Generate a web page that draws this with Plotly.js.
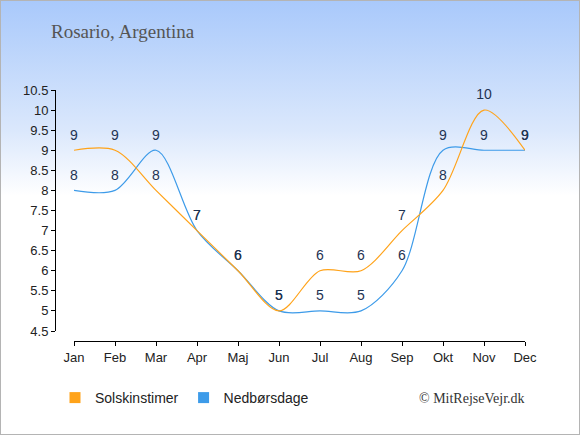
<!DOCTYPE html>
<html>
<head>
<meta charset="utf-8">
<script src="https://cdn.plot.ly/plotly-3.0.1.min.js"></script>
<style>
html,body{margin:0;padding:0;}
#wrap{width:578px;height:433px;border:1px solid #b4b4b4;background:linear-gradient(to bottom,#a9c9fb 0px,#dbe8fc 130px,#ffffff 195px,#ffffff 100%);}
#chart{width:578px;height:433px;}
</style>
</head>
<body>
<div id="wrap"><div id="chart"></div></div>
<script>
var months = ["Jan","Feb","Mar","Apr","Maj","Jun","Jul","Aug","Sep","Okt","Nov","Dec"];
var solskinstimer = [9,9,8,7,6,5,6,6,7,8,10,9];
var nedboersdage = [8,8,9,7,6,5,5,5,6,9,9,9];
var yTicks = [4.5,5,5.5,6,6.5,7,7.5,8,8.5,9,9.5,10,10.5];
var seriesNames = ["Solskinstimer","Nedbørsdage"];
var colors = ["#ffa31a","#3d9be9"];

var W = 578, H = 433;
var monthIdx = months.map(function(m,i){return i;});
var labelFont = {family:"Liberation Sans, Arial, sans-serif", size:14, color:"#1f3352"};

function lineTrace(vals, color){
  return {
    x: monthIdx, y: vals, type:"scatter", mode:"lines+markers+text",
    marker:{size:10, opacity:0, color:color},
    text: vals.map(String), textposition:"top center", textfont: labelFont,
    line:{color:color, width:1.2, shape:"spline", smoothing:0.9},
    showlegend:false, hoverinfo:"skip", cliponaxis:false
  };
}
function legendTrace(name, color){
  return {x:[null], y:[null], type:"scatter", mode:"markers", name:name,
    marker:{symbol:"square", size:11, color:color}, showlegend:true};
}

var data = [
  lineTrace(nedboersdage, colors[1]),
  lineTrace(solskinstimer, colors[0]),
  legendTrace(seriesNames[0], colors[0]),
  legendTrace(seriesNames[1], colors[1])
];

var layout = {
  width: W, height: H,
  margin:{l:0,r:0,t:0,b:0},
  paper_bgcolor:"rgba(0,0,0,0)", plot_bgcolor:"rgba(0,0,0,0)",
  font:{family:"Liberation Sans, Arial, sans-serif", size:13, color:"#222"},
  title:{text:"Rosario, Argentina", x:50/W, xanchor:"left", y:1-30/H, yanchor:"middle",
    font:{family:"Liberation Serif, Times New Roman, serif", size:19, color:"#555"}},
  xaxis:{
    domain:[73/W, 524/W], range:[0,11], type:"linear",
    tickmode:"array", tickvals: monthIdx, ticktext: months,
    showline:true, linecolor:"#000", linewidth:1, ticks:"outside", ticklen:4, tickcolor:"#000",
    showgrid:false, zeroline:false, anchor:"free", position:1-340/H,
    tickfont:{size:13, color:"#222"}
  },
  yaxis:{
    domain:[1-330/H, 1-89/H], range:[4.5,10.5],
    tickmode:"array", tickvals:yTicks, ticktext: yTicks.map(String),
    showline:true, linecolor:"#000", linewidth:1, ticks:"outside", ticklen:4, tickcolor:"#000",
    showgrid:false, zeroline:false, anchor:"free", position:54/W,
    tickfont:{size:13, color:"#222"}
  },
  showlegend:true,
  legend:{orientation:"h", x:54/W, xanchor:"left", y:1-397/H, yanchor:"middle",
    bgcolor:"rgba(0,0,0,0)", font:{size:14, color:"#222"}, itemclick:false},
  annotations:[{
    text:"© MitRejseVejr.dk", xref:"paper", yref:"paper", x:526/W, xanchor:"right",
    y:1-397/H, yanchor:"middle", showarrow:false,
    font:{family:"Liberation Serif, Times New Roman, serif", size:14, color:"#333"}
  }]
};

Plotly.newPlot("chart", data, layout, {staticPlot:true, displayModeBar:false});
</script>
</body>
</html>
